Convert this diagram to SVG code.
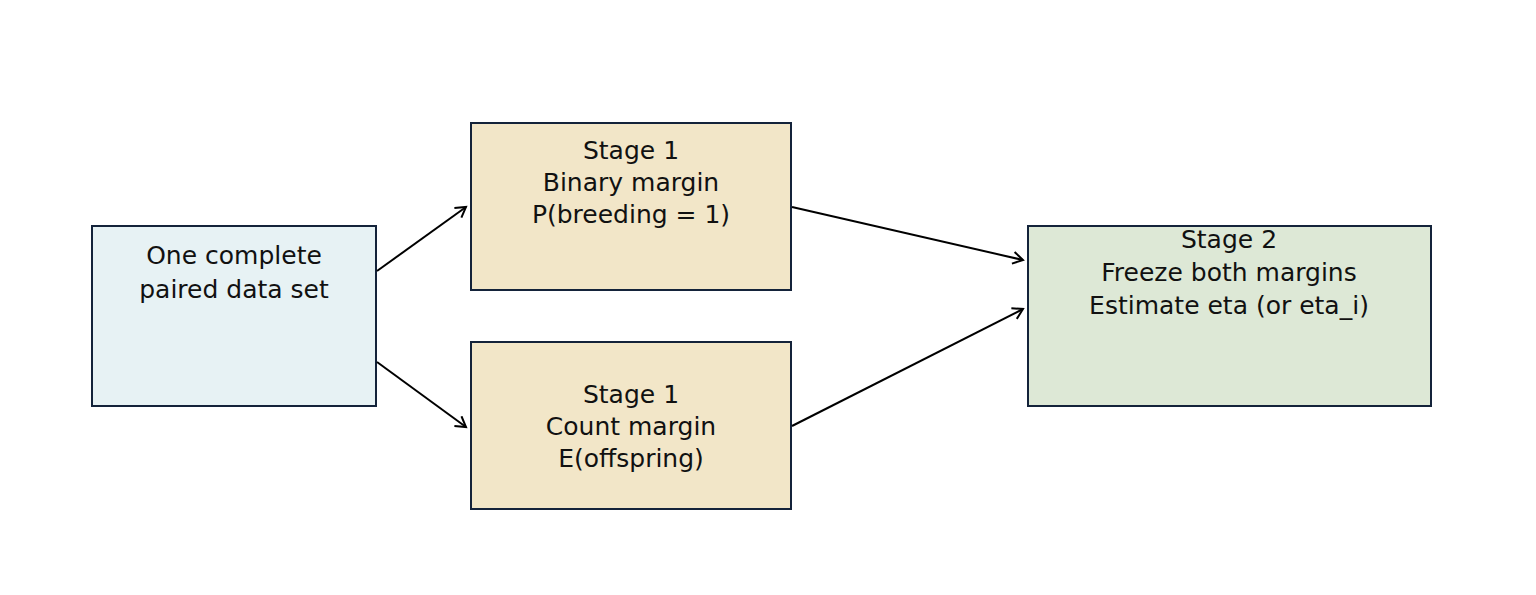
<svg xmlns="http://www.w3.org/2000/svg" width="1536" height="595" viewBox="0 0 1536 595">
<defs>
<style>
.box{stroke:#14233a;stroke-width:2}
text{font-family:"DejaVu Sans",sans-serif;font-size:25px;fill:#111;text-anchor:middle}
.c{stroke:#000;stroke-width:2;fill:none;marker-end:url(#a)}
</style>
<marker id="a" markerWidth="14" markerHeight="14" refX="11" refY="7" orient="auto" markerUnits="userSpaceOnUse"><path d="M1,1 L11,7 L1,13" fill="none" stroke="#000" stroke-width="2"/></marker>
</defs>
<rect width="1536" height="595" fill="#fff"/>
<g id="n1"><rect class="box" x="92" y="226" width="284" height="180" fill="#e7f2f4"/><text x="234" y="264">One complete</text><text x="234" y="298">paired data set</text></g>
<g id="n2"><rect class="box" x="471" y="123" width="320" height="167" fill="#f2e6c8"/><text x="631" y="159">Stage 1</text><text x="631" y="191">Binary margin</text><text x="631" y="223">P(breeding = 1)</text></g>
<g id="n3"><rect class="box" x="471" y="342" width="320" height="167" fill="#f2e6c8"/><text x="631" y="403">Stage 1</text><text x="631" y="435">Count margin</text><text x="631" y="467">E(offspring)</text></g>
<g id="n4"><rect class="box" x="1028" y="226" width="403" height="180" fill="#dde8d6"/><text x="1229" y="248">Stage 2</text><text x="1229" y="281">Freeze both margins</text><text x="1229" y="314">Estimate eta (or eta_i)</text></g>
<g id="connectors">
<line class="c" x1="377" y1="271" x2="466" y2="207"/>
<line class="c" x1="377" y1="362" x2="466" y2="427"/>
<line class="c" x1="792" y1="207" x2="1023" y2="260"/>
<line class="c" x1="792" y1="426" x2="1023" y2="309"/>
</g>
</svg>
